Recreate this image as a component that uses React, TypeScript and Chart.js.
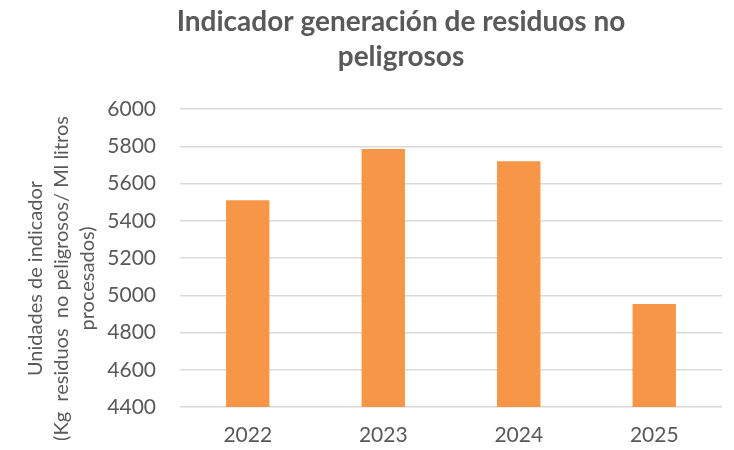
import { useEffect, useRef } from "react";
import { Chart, registerables } from "chart.js";

Chart.register(...registerables);

const categories = ["2022", "2023", "2024", "2025"];
const values = [5510, 5785, 5720, 4953];
const yMin = 4400;
const yMax = 6000;
const yStep = 200;
const titleLines = ["Indicador generación de residuos no", "peligrosos"];
const pad = "        ";
const yTitleLines = [
  "Unidades de indicador" + pad,
  "(Kg  residuos  no peligrosos/ Ml litros" + pad,
  "procesados)" + pad,
];

const FONT = "Lato";
const TEXT = "#595959";
const BAR = "#F79646";
const GRID = "#D9D9D9";

const titlePlugin = {
  id: "customTitle",
  afterDraw(chart: any) {
    const ctx = chart.ctx;
    ctx.save();
    ctx.font = `bold 28px ${FONT}`;
    ctx.fillStyle = TEXT;
    ctx.textAlign = "center";
    ctx.textBaseline = "alphabetic";
    titleLines.forEach((l, i) => ctx.fillText(l, 401, 31 + i * 35));
    ctx.restore();
  },
};

export default function App() {
  const ref = useRef<HTMLCanvasElement | null>(null);
  useEffect(() => {
    if (!ref.current) return;
    const chart = new Chart(ref.current, {
      type: "bar",
      data: {
        labels: categories,
        datasets: [
          {
            data: values,
            backgroundColor: BAR,
            borderWidth: 0,
            barPercentage: 0.32,
            categoryPercentage: 1,
          },
        ],
      },
      plugins: [titlePlugin],
      options: {
        responsive: false,
        animation: false,
        layout: { padding: { top: 109, right: 12, left: 0, bottom: 0 } },
        plugins: {
          legend: { display: false },
          title: { display: false },
          tooltip: { enabled: false },
        },
        scales: {
          x: {
            grid: { display: false, drawTicks: false },
            border: { display: false },
            ticks: {
              color: TEXT,
              font: { family: FONT, size: 21 },
              padding: 16,
            },
            afterFit(scale: any) {
              scale.height = 43;
            },
          },
          y: {
            min: yMin,
            max: yMax,
            grid: { color: GRID, lineWidth: 1.5, drawTicks: false },
            border: { display: false },
            ticks: {
              stepSize: yStep,
              color: TEXT,
              font: { family: FONT, size: 21 },
              padding: 24,
              callback: (v: any) => String(v),
            },
            title: {
              display: true,
              text: yTitleLines,
              color: TEXT,
              font: { family: FONT, size: 20, lineHeight: 1.3 },
              padding: { top: 23, bottom: 0 },
            },
            afterFit(scale: any) {
              scale.width = 180;
            },
          },
        },
      },
    });
    return () => chart.destroy();
  }, []);
  return (
    <div style={{ position: "absolute", left: 0, top: 0, width: 734, height: 450, background: "#fff" }}>
      <canvas ref={ref} width={734} height={450} />
    </div>
  );
}
